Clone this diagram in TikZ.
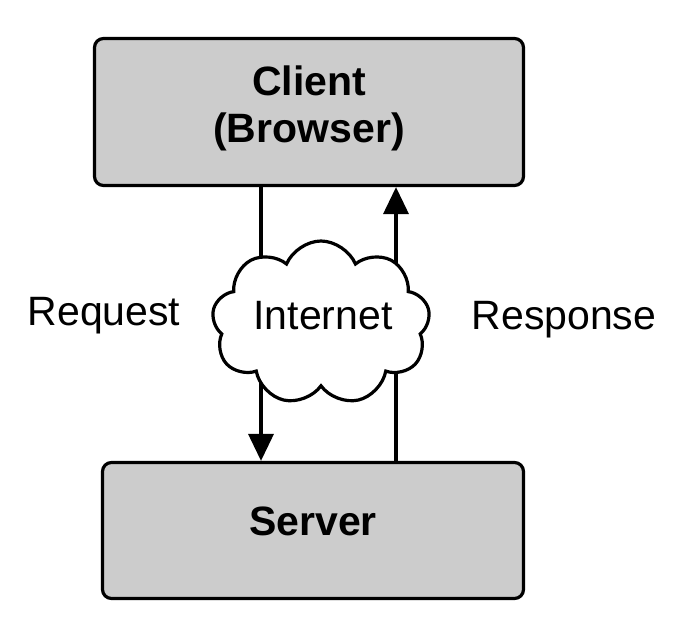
\documentclass[tikz,border=0pt]{standalone}
\usepackage{fontspec}
\setmainfont{Liberation Sans}
\usetikzlibrary{arrows.meta,shapes.symbols}

\begin{document}
\begin{tikzpicture}[x=1pt, y=-1pt,
	box/.style={draw, line width=3.2pt, fill=black!20, rounded corners=9pt, inner sep=0pt},
	txt/.style={inner sep=0pt, font=\fontsize{41}{47}\selectfont},
	flow/.style={line width=3.5pt, -{Triangle[length=27pt, width=25pt]}}]
			%%%%% START %%%%%
			
			\useasboundingbox (0, 0) rectangle (690, 636);
			
			\node[box, minimum width=429pt, minimum height=147pt] (client) at (309, 112) {};
			\node[box, minimum width=421pt, minimum height=136pt] (server) at (313, 530.5) {};
			
			\node[txt, font=\fontsize{41}{47}\selectfont\bfseries, align=center] (clientlabel) at (309, 108) {Client\\(Browser)};
			\node[txt, font=\fontsize{41}{47}\selectfont\bfseries, anchor=base] (serverlabel) at (313, 535) {Server};
			
			\coordinate (reqx) at (261, 0);
			\coordinate (respx) at (396, 0);
			
			\draw[flow] (client.south -| reqx) -- (server.north -| reqx);
			\draw[flow] (server.north -| respx) -- (client.south -| respx);
			
			\node[cloud, draw, line width=3.2pt, fill=white, cloud puffs=9, cloud puff arc=135, aspect=1.35, minimum width=218pt, minimum height=164pt, inner sep=0pt] (internet) at (321, 323) {};
			\node[txt, anchor=base] (internetlabel) at (323, 329) {Internet};
			
			\node[txt, anchor=base] (request) at (104, 325) {Request};
			\node[txt, anchor=base] (response) at (564, 329) {Response};
			
			%%%%% END %%%%%
\end{tikzpicture}
\end{document}
